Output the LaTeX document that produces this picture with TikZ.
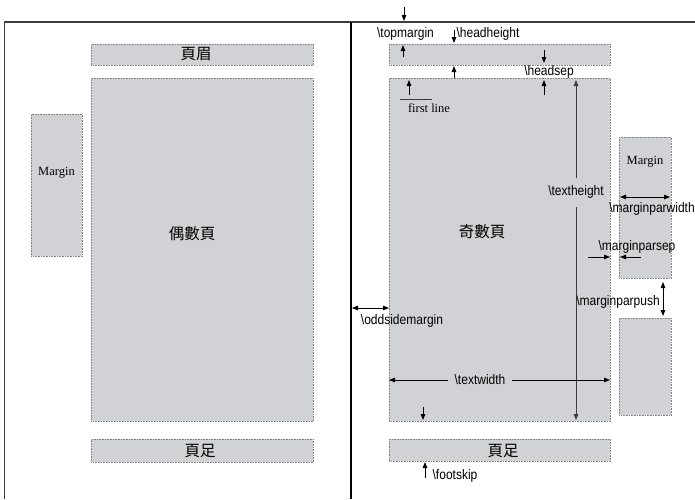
\documentclass[tikz,border=0pt]{standalone}
\usepackage{fontspec}
\setmainfont{Liberation Serif}
\newfontfamily\lblfont[FakeStretch=0.87]{Liberation Sans}
\newfontfamily\cjk{Noto Sans CJK TC}
\usetikzlibrary{arrows.meta}
\definecolor{boxfill}{RGB}{209,210,213}
\definecolor{boxline}{RGB}{130,130,130}
\definecolor{frameline}{RGB}{60,60,60}
\tikzset{
  pbox/.style={fill=boxfill, draw=boxline, densely dotted, line width=0.6pt, inner sep=0pt, anchor=north west},
  lbl/.style={font=\lblfont\fontsize{13.8}{13.8}\selectfont, inner sep=0pt},
  serlbl/.style={font=\fontsize{12.5}{12.5}\selectfont, inner sep=0pt},
  cjklbl/.style={font=\cjk\fontsize{15.5}{15.5}\selectfont, inner sep=0pt},
  arr/.style={-{Triangle[length=6pt,width=4.5pt]}, line width=0.8pt, black},
  darr/.style={{Triangle[length=6pt,width=4.5pt]}-{Triangle[length=6pt,width=4.5pt]}, line width=0.8pt, black},
  frame/.style={draw=frameline, line width=1.1pt}
}
\begin{document}
\begin{tikzpicture}[x=1pt,y=-1pt]
\useasboundingbox (0,0) rectangle (695,499);
% frame
\draw[frame] (4.7,499) -- (4.7,22) -- (695,22);
\draw[frame, draw=black, line width=1.4pt] (351,22) -- (351,499);
% left page boxes
\node[pbox, minimum width=222pt, minimum height=21pt] (lhead) at (91,44) {};
\node[pbox, minimum width=222pt, minimum height=343pt] (ltext) at (91,78) {};
\node[pbox, minimum width=222pt, minimum height=23pt] (lfoot) at (91,439) {};
\node[pbox, minimum width=51pt, minimum height=142pt] (lmarg) at (31,114) {};
\node[cjklbl] (lheadt) at (196,54.5) {頁眉};
\node[cjklbl] (ltextt) at (192,234) {偶數頁};
\node[cjklbl] (lfoott) at (200,451) {頁足};
\node[serlbl] (lmargt) at (56.5,173) {Margin};
% right page boxes
\node[pbox, minimum width=221pt, minimum height=21pt] (rhead) at (389,44) {};
\node[pbox, minimum width=221pt, minimum height=343pt] (rtext) at (389,78) {};
\node[pbox, minimum width=221pt, minimum height=22pt] (rfoot) at (389,439) {};
\node[pbox, minimum width=52pt, minimum height=141pt] (rmarg) at (619,137) {};
\node[pbox, minimum width=52pt, minimum height=97pt] (rmarg2) at (619,318) {};
\node[cjklbl] (rtextt) at (482,232) {奇數頁};
\node[cjklbl] (rfoott) at (503,451) {頁足};
\node[serlbl] (rmargt) at (645,162) {Margin};
% labels
\node[lbl] (topm) at (405.5,34) {\textbackslash topmargin};
\node[lbl] (headh) at (488,34) {\textbackslash headheight};
\node[lbl] (heads) at (549,72) {\textbackslash headsep};
\node[serlbl] (first) at (429,108) {first line};
\node[lbl] (texth) at (576,192) {\textbackslash textheight};
\node[lbl] (mpw) at (652,209) {\textbackslash marginparwidth};
\node[lbl] (mps) at (637,247) {\textbackslash marginparsep};
\node[lbl] (mpp) at (618,302) {\textbackslash marginparpush};
\node[lbl] (odd) at (402,321) {\textbackslash oddsidemargin};
\node[lbl] (textw) at (480,380) {\textbackslash textwidth};
\node[lbl] (foots) at (455,476) {\textbackslash footskip};
% coordinates
\coordinate (tm1) at (404,7);  \coordinate (tm2) at (404,21);
\coordinate (tm3) at (403,57); \coordinate (tm4) at (403,45);
\coordinate (hh1) at (454,30); \coordinate (hh2) at (454,43);
\coordinate (hh3) at (454,78); \coordinate (hh4) at (454,66);
\coordinate (hs1) at (544,50); \coordinate (hs2) at (544,63);
\coordinate (hs3) at (544,95); \coordinate (hs4) at (544,80);
\coordinate (fl1) at (409,95); \coordinate (fl2) at (409,80);
\coordinate (fla) at (400,99); \coordinate (flb) at (432,99);
\coordinate (th1) at (576,178); \coordinate (th2) at (576,80);
\coordinate (th3) at (576,207); \coordinate (th4) at (576,420);
\coordinate (pw1) at (620,197); \coordinate (pw2) at (670,197);
\coordinate (ps1) at (588,257); \coordinate (ps2) at (610,257);
\coordinate (ps3) at (641,257); \coordinate (ps4) at (620,257);
\coordinate (pp1) at (663,282); \coordinate (pp2) at (663,316);
\coordinate (om1) at (352,308); \coordinate (om2) at (389,308);
\coordinate (tw1) at (448,380); \coordinate (tw2) at (389,380);
\coordinate (tw3) at (512,380); \coordinate (tw4) at (610,380);
\coordinate (bd1) at (423,407); \coordinate (bd2) at (423,420);
\coordinate (fs1) at (425,478); \coordinate (fs2) at (425,462);
% arrows
\draw[arr] (tm1) -- (tm2);
\draw[arr] (tm3) -- (tm4);
\draw[arr] (hh1) -- (hh2);
\draw[arr] (hh3) -- (hh4);
\draw[arr] (hs1) -- (hs2);
\draw[arr] (hs3) -- (hs4);
\draw[arr] (fl1) -- (fl2);
\draw[line width=1pt, draw=frameline] (fla) -- (flb);
\draw[arr, draw=frameline, line width=1pt] (th1) -- (th2);
\draw[arr, draw=frameline, line width=1pt] (th3) -- (th4);
\draw[darr] (pw1) -- (pw2);
\draw[arr] (ps1) -- (ps2);
\draw[arr] (ps3) -- (ps4);
\draw[darr] (pp1) -- (pp2);
\draw[darr] (om1) -- (om2);
\draw[arr] (tw1) -- (tw2);
\draw[arr] (tw3) -- (tw4);
\draw[arr] (bd1) -- (bd2);
\draw[arr] (fs1) -- (fs2);
\end{tikzpicture}
\end{document}
